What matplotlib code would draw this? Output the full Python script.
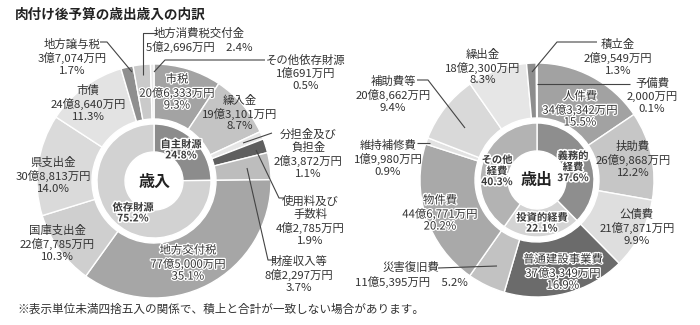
import matplotlib.pyplot as plt
import matplotlib.patheffects as pe

plt.rcParams['font.family'] = ['Noto Sans CJK JP', 'DejaVu Sans']

# 歳入 (万円), clockwise from the top
rev_names = ["市税", "繰入金", "分担金及び\n負担金", "使用料及び\n手数料", "財産収入等",
             "地方交付税", "国庫支出金", "県支出金", "市債", "地方譲与税",
             "地方消費税交付金", "その他依存財源"]
rev_values = [206333, 193101, 23872, 42785, 82297,
              775000, 227785, 308813, 248640, 37074, 52696, 10691]
rev_colors = ["#a3a3a3", "#c4c4c4", "#e6e6e6", "#5f5f5f", "#bdbdbd",
              "#a6a6a6", "#cfcfcf", "#dadada", "#e3e3e3", "#8f8f8f", "#cacaca", "#e8e8e8"]
rev_groups = ["自主財源", "依存財源"]
rev_group_sizes = [5, 7]
rev_group_colors = ["#8c8c8c", "#d2d2d2"]

# 歳出 (万円), clockwise from the top
exp_names = ["人件費", "扶助費", "公債費", "普通建設事業費", "災害復旧費",
             "物件費", "維持補修費", "補助費等", "繰出金", "積立金", "予備費"]
exp_values = [343342, 269868, 217871, 373349, 115395,
              446771, 19980, 208662, 182300, 29549, 2000]
exp_colors = ["#a2a2a2", "#c6c6c6", "#dedede", "#6b6b6b", "#c2c2c2",
              "#a9a9a9", "#e2e2e2", "#d9d9d9", "#e6e6e6", "#8d8d8d", "#ececec"]
exp_groups = ["義務的\n経費", "投資的経費", "その他\n経費"]
exp_group_sizes = [3, 2, 6]
exp_group_colors = ["#8e8e8e", "#d4d4d4", "#b3b3b3"]


def yen(v):
    oku, man = divmod(v, 10000)
    return f"{oku}億{man:,}万円" if oku else f"{man:,}万円"


def grouped(values, sizes):
    out, i = [], 0
    for n in sizes:
        out.append(sum(values[i:i + n]))
        i += n
    return out


fig = plt.figure(figsize=(7, 3.25), dpi=100)
ax = fig.add_axes([0, 0, 1, 1])

R_OUT, W_OUT = 117, 55
R_IN, W_IN = 57, 28
ring = dict(edgecolor="white", linewidth=1.0)
halo = [pe.withStroke(linewidth=2.2, foreground="white")]
ink = "#333333"

# y axis is flipped below, so startangle=-90 with counterclock runs clockwise from 12 o'clock
for center, vals, cols, gsizes, gcols in [
        ((154, 181), rev_values, rev_colors, rev_group_sizes, rev_group_colors),
        ((537, 180), exp_values, exp_colors, exp_group_sizes, exp_group_colors)]:
    ax.pie(vals, colors=cols, radius=R_OUT, center=center, startangle=-90,
           counterclock=True, frame=True, wedgeprops=dict(width=W_OUT, **ring))
    ax.pie(grouped(vals, gsizes), colors=gcols, radius=R_IN, center=center,
           startangle=-90, counterclock=True, frame=True,
           wedgeprops=dict(width=W_IN, **ring))

ax.set_xlim(0, 700)
ax.set_ylim(325, 0)
ax.set_aspect("auto")
ax.axis("off")

rev_total = sum(rev_values)
exp_total = sum(exp_values)

# label block centres and whether the label sits on the slice (haloed)
rev_pos = [(177, 92, 1), (240, 113, 0), (308, 154, 0), (310, 221, 0), (299, 274, 0),
           (188, 263, 1), (57, 243, 0), (53, 175, 0), (88, 103, 0), (72, 57, 0),
           (199, 40, 0), (306, 73, 0)]
exp_pos = [(580, 109, 1), (633, 159, 0), (637, 227, 0), (563, 272, 1), (411, 275, 0),
           (440, 213, 1), (388, 158, 0), (393, 94, 0), (483, 67, 0), (618, 57, 0),
           (652, 96, 0)]
two_line = {"地方消費税交付金", "災害復旧費"}

for names, vals, total, pos in [(rev_names, rev_values, rev_total, rev_pos),
                                 (exp_names, exp_values, exp_total, exp_pos)]:
    for name, v, (x, y, on) in zip(names, vals, pos):
        pct = f"{v / total * 100:.1f}%"
        sep = "\u3000" if name in two_line else "\n"
        t = ax.text(x, y, f"{name}\n{yen(v)}{sep}{pct}", ha="center", va="center",
                    fontsize=8.2, color=ink, linespacing=1.22)
        if on:
            t.set_path_effects([pe.withStroke(linewidth=1.8, foreground="white")])

# inner ring labels
for names, vals, gsizes, total, pos in [
        (rev_groups, rev_values, rev_group_sizes, rev_total, [(181, 150), (133, 213)]),
        (exp_groups, exp_values, exp_group_sizes, exp_total,
         [(573, 167), (542, 223), (497, 171)])]:
    for name, v, (x, y) in zip(names, grouped(vals, gsizes), pos):
        ax.text(x, y, f"{name}\n{v / total * 100:.1f}%", ha="center", va="center",
                fontsize=7.4, color="#3a3a3a", fontweight="bold", linespacing=1.1,
                path_effects=halo)

ax.text(155, 182, "歳入", ha="center", va="center", fontsize=11.5, fontweight="bold", color="#222222")
ax.text(537, 180, "歳出", ha="center", va="center", fontsize=11.5, fontweight="bold", color="#222222")

# leader lines
leaders = [
    [(100, 42), (107, 42), (132, 72)],
    [(157, 33), (143, 33), (143, 75)],
    [(265, 60), (165, 60), (154, 72)],
    [(272, 133), (243, 143)],
    [(256, 150), (279, 198), (284, 198)],
    [(247, 168), (268, 260), (275, 260)],
    [(597, 42), (557, 42), (532, 72)],
    [(630, 84), (537, 84)],
    [(417, 80), (428, 80), (465, 128)],
    [(417, 143), (430, 143)],
    [(438, 268), (497, 266)],
]
for pts in leaders:
    xs, ys = zip(*pts)
    ax.plot(xs, ys, color="#444444", lw=0.8, solid_capstyle="butt")

ax.text(15, 15, "肉付け後予算の歳出歳入の内訳", ha="left", va="center",
        fontsize=9.8, fontweight="bold", color="#222222")
ax.text(17, 309, "※表示単位未満四捨五入の関係で、積上と合計が一致しない場合があります。",
        ha="left", va="center", fontsize=8.4, color="#333333")

fig.savefig("out.png", dpi=100, facecolor="white")
